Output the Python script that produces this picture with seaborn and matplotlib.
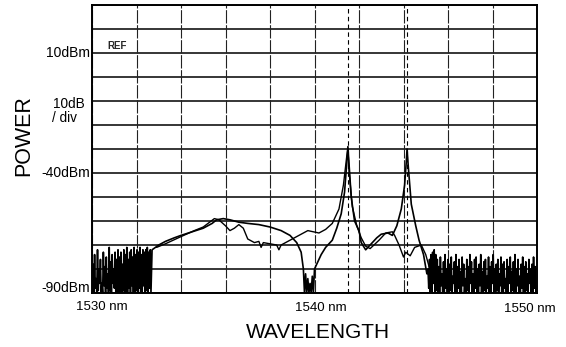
import numpy as np
import pandas as pd
import matplotlib
matplotlib.use('Agg')
import matplotlib.pyplot as plt
import seaborn as sns

# optical spectrum analyser trace
WL_MIN, WL_MAX = 1530, 1550
P_MIN, P_MAX = -90, 30
y_labels = {10: '10dBm', -40: '-40dBm', -90: '-90dBm'}
x_labels = ['1530 nm', '1540 nm', '1550 nm']
peak_wl = [1541.5, 1544.16]

# noise floor left of the ASE band (tops / bottoms of the spikes)
left_noise_top = [-78, -74, -84, -72, -80, -76, -86, -73, -79, -75, -82, -71, -77, -74, -80,
                  -73, -76, -72, -75, -73, -78, -72, -74, -71, -76, -73, -72, -75, -71, -74,
                  -72, -73, -71, -74, -72, -73, -72, -71, -73, -72]
left_noise_low = [-90, -88, -90, -89, -86, -90, -90, -87, -90, -88, -90, -89, -90, -86, -88,
                  -90, -90, -90, -90, -90, -89, -90, -90, -90, -88, -90, -87, -90, -90, -89,
                  -90, -88, -90, -90, -87, -90, -89, -90, -88, -90]

# trace 1 (both lasers)
t1_wl = [1532.7, 1533.0, 1533.3, 1533.7, 1534.0, 1534.5, 1535.0, 1535.4, 1535.6, 1535.9,
         1536.2, 1536.6, 1537.0, 1537.5, 1538.0, 1538.5, 1538.9, 1539.2, 1539.4,
         1539.5, 1539.55, 1539.6, 1539.65, 1539.7, 1539.75, 1539.8, 1539.85, 1539.9, 1539.95,
         1540.0, 1540.1, 1540.3, 1540.5, 1540.8, 1541.0, 1541.2, 1541.35, 1541.45, 1541.5,
         1541.55, 1541.65, 1541.8, 1542.0, 1542.1, 1542.3, 1542.5, 1542.8, 1543.0, 1543.3,
         1543.5, 1543.7, 1543.9, 1544.05, 1544.12, 1544.16, 1544.22, 1544.35, 1544.55, 1544.7,
         1544.9, 1545.05]
t1_db = [-72, -70, -68.5, -67, -66, -64.5, -63, -61, -59.5, -59,
         -59.5, -60.5, -61, -61.5, -62.5, -64, -66, -69, -73,
         -80, -90, -82, -90, -84, -90, -86, -90, -83, -90,
         -80, -78, -74, -71, -68, -63, -57, -48, -36, -29,
         -36, -50, -60, -64, -69, -72, -70, -67, -65.5, -65,
         -66, -62, -55, -45, -36, -30, -38, -53, -62, -68,
         -74, -82]

# trace 2 (second run)
t2_wl = [1532.9, 1533.3, 1534.0, 1534.6, 1535.0, 1535.5, 1535.7, 1536.0, 1536.2, 1536.4,
         1536.6, 1536.8, 1537.0, 1537.3, 1537.5, 1537.6, 1537.7, 1538.0, 1538.3, 1538.4,
         1538.5, 1538.9, 1539.3, 1539.7, 1540.2, 1540.5, 1540.8, 1541.1, 1541.3, 1541.45,
         1541.5, 1541.56, 1541.7, 1541.9, 1542.1, 1542.3, 1542.5, 1542.9, 1543.2, 1543.5,
         1543.6, 1543.8, 1544.0, 1544.1, 1544.3, 1544.5, 1544.8, 1545.0, 1545.15]
t2_db = [-71, -69.5, -66.5, -64, -62.5, -59, -59.5, -62, -64, -63,
         -61.5, -63, -67.5, -69, -68.5, -71, -69, -69.5, -70, -72,
         -70, -68, -66, -64, -65, -63.5, -61, -55, -45, -33,
         -30, -40, -54, -62, -67, -70.5, -71.5, -68, -65, -64.5,
         -66, -70, -75, -73, -74.5, -71, -70, -74, -79]

# noise floor right of the lasers
right_noise_top = [-80, -76, -74, -73, -72, -74, -76, -79, -75, -82, -77, -74, -80, -76, -78,
                   -75, -83, -77, -74, -79, -76, -81, -75, -78, -84, -76, -79, -74, -77, -82,
                   -76, -75, -80, -78, -74, -81, -77, -76, -83, -75, -79, -77, -74, -80, -78,
                   -76, -82, -75, -78, -77, -84, -76, -79, -75, -81, -77, -74, -80, -76, -83,
                   -78, -75, -79, -77, -82, -76, -80, -78, -75, -79]
right_noise_low = [-88, -90, -90, -86, -90, -89, -90, -90, -87, -90, -90, -88, -90, -90, -89,
                   -90, -86, -90, -90, -88, -90, -90, -87, -90, -90, -89, -90, -86, -90, -90,
                   -88, -90, -90, -87, -90, -90, -89, -90, -88, -90, -90, -86, -90, -90, -89,
                   -90, -87, -90, -90, -88, -90, -90, -86, -90, -89, -90, -90, -87, -90, -90,
                   -88, -90, -90, -89, -90, -86, -90, -90, -88, -90]


def zigzag(top, low, start, stop):
    vals = np.column_stack([top, low]).ravel()
    return np.linspace(start, stop, len(vals)), vals


lw_l, ld_l = zigzag(left_noise_top, left_noise_low, 1530.05, 1532.65)
lw_r, ld_r = zigzag(right_noise_top, right_noise_low, 1545.1, 1549.95)

trace1 = pd.DataFrame({'wl': np.concatenate([lw_l, t1_wl, lw_r]),
                       'dbm': np.concatenate([ld_l, t1_db, ld_r])})
trace2 = pd.DataFrame({'wl': t2_wl, 'dbm': t2_db})

sns.set_style('white')
plt.rcParams['font.family'] = ['Liberation Sans', 'DejaVu Sans']

W, H = 566, 347
fig = plt.figure(figsize=(W / 100, H / 100), dpi=100)
ax = fig.add_axes([92 / W, 1 - 293 / H, 445 / W, 288 / H])

# grid: solid horizontals, broken verticals
for p in range(P_MIN, P_MAX + 1, 10):
    ax.axhline(p, color='black', lw=1.1, zorder=1)
for w in range(WL_MIN, WL_MAX + 1, 2):
    ax.axvline(w, color='#222222', lw=0.8, ls=(0, (12, 1.5)), zorder=1)
for w in peak_wl:
    ax.axvline(w, color='black', lw=0.8, ls=(0, (4, 3)), zorder=1)

sns.lineplot(data=trace1, x='wl', y='dbm', sort=False, estimator=None,
             color='black', lw=1.2, ax=ax, zorder=3)
sns.lineplot(data=trace2, x='wl', y='dbm', sort=False, estimator=None,
             color='black', lw=1.0, ax=ax, zorder=3)

ax.set_xlim(WL_MIN, WL_MAX)
ax.set_ylim(P_MIN, P_MAX)
ax.set_xticks([])
ax.set_yticks([])
ax.set_xlabel('')
ax.set_ylabel('')
for s in ax.spines.values():
    s.set_visible(True)
    s.set_color('black')
    s.set_linewidth(1.4)


def px_text(x, y, s, **kw):
    fig.text(x / W, 1 - y / H, s, color='black', **kw)


ax.text(1530.7, 10.8, 'REF', fontsize=7, fontweight='bold', va='bottom', ha='left')
px_text(90, 53, y_labels[10], fontsize=10, ha='right', va='center')
px_text(90, 173, y_labels[-40], fontsize=10, ha='right', va='center')
px_text(90, 288, y_labels[-90], fontsize=10, ha='right', va='center')
px_text(53, 104, '10dB', fontsize=9.8, ha='left', va='center')
px_text(52, 118, '/ div', fontsize=9.8, ha='left', va='center')
px_text(24, 136, 'POWER', fontsize=15.5, rotation=90, ha='center', va='center')
px_text(102, 307, x_labels[0], fontsize=9.5, ha='center', va='center')
px_text(321, 308, x_labels[1], fontsize=9.5, ha='center', va='center')
px_text(530, 309, x_labels[2], fontsize=9.5, ha='center', va='center')
px_text(318, 333, 'WAVELENGTH', fontsize=15, ha='center', va='center')

fig.savefig('out.png', dpi=100)
